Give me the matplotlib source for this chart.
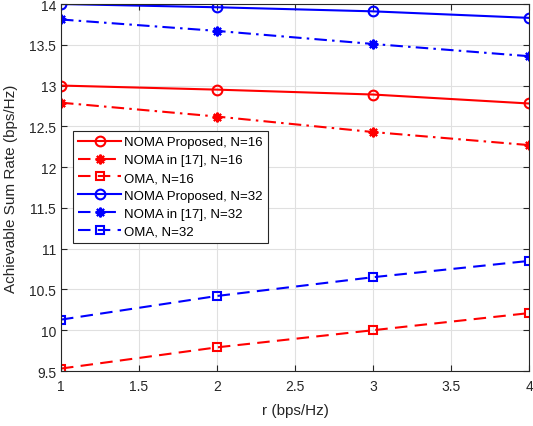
import matplotlib.pyplot as plt
import numpy as np

plt.rcParams['font.family'] = ['Liberation Sans', 'DejaVu Sans']

r = [1, 2, 3, 4]
noma_prop_16 = [13.00, 12.95, 12.89, 12.78]
noma_ref_16 = [12.79, 12.62, 12.43, 12.27]
oma_16 = [9.53, 9.79, 10.00, 10.21]
noma_prop_32 = [14.00, 13.96, 13.91, 13.83]
noma_ref_32 = [13.81, 13.67, 13.51, 13.36]
oma_32 = [10.13, 10.42, 10.65, 10.85]

fig = plt.figure(figsize=(5.33, 4.27), dpi=100)
ax = fig.add_axes([61/533, 1-372/427, 468/533, 367/427])

star = (8, 2, 0)
dash = (0, (6, 3.5))
dashdot = (0, (6, 2.5, 1.2, 2.5))

ax.plot(r, noma_prop_16, color='r', ls='-', marker='o', mfc='none', ms=7, mew=1.5, lw=1.5, label='NOMA Proposed, N=16')
ax.plot(r, noma_ref_16, color='r', ls=dashdot, marker=star, ms=7, mew=1.5, lw=1.5, label='NOMA in [17], N=16')
ax.plot(r, oma_16, color='r', ls=dash, marker='s', mfc='none', ms=6, mew=1.5, lw=1.5, label='OMA, N=16')
ax.plot(r, noma_prop_32, color='b', ls='-', marker='o', mfc='none', ms=7, mew=1.5, lw=1.5, label='NOMA Proposed, N=32')
ax.plot(r, noma_ref_32, color='b', ls=dashdot, marker=star, ms=7, mew=1.5, lw=1.5, label='NOMA in [17], N=32')
ax.plot(r, oma_32, color='b', ls=dash, marker='s', mfc='none', ms=6, mew=1.5, lw=1.5, label='OMA, N=32')

ax.set_xlim(1, 4)
ax.set_ylim(9.5, 14)
ax.set_xticks(np.arange(1, 4.01, 0.5))
ax.set_xticklabels(['1', '1.5', '2', '2.5', '3', '3.5', '4'])
ax.set_yticks(np.arange(9.5, 14.01, 0.5))
ax.set_yticklabels(['9.5', '10', '10.5', '11', '11.5', '12', '12.5', '13', '13.5', '14'])
ax.tick_params(direction='in', labelsize=10, colors='#262626', top=True, right=True, length=4)
ax.tick_params(axis='x', pad=6)
ax.grid(True, color='#e0e0e0', lw=0.8)
ax.set_axisbelow(True)
for s in ax.spines.values():
    s.set_color('#262626')
    s.set_linewidth(0.8)

ax.set_xlabel('r (bps/Hz)', fontsize=11, color='#262626', labelpad=7)
ax.set_ylabel('Achievable Sum Rate (bps/Hz)', fontsize=11, color='#262626', labelpad=8)

leg = ax.legend(loc='upper left', bbox_to_anchor=(0.026, 0.654), fontsize=9.5,
                fancybox=False, edgecolor='#262626', framealpha=1,
                handlelength=3.2, handletextpad=0.25, borderpad=0.4,
                labelspacing=0.42, borderaxespad=0)
leg.get_frame().set_linewidth(0.8)

fig.savefig('out.png', dpi=100)
